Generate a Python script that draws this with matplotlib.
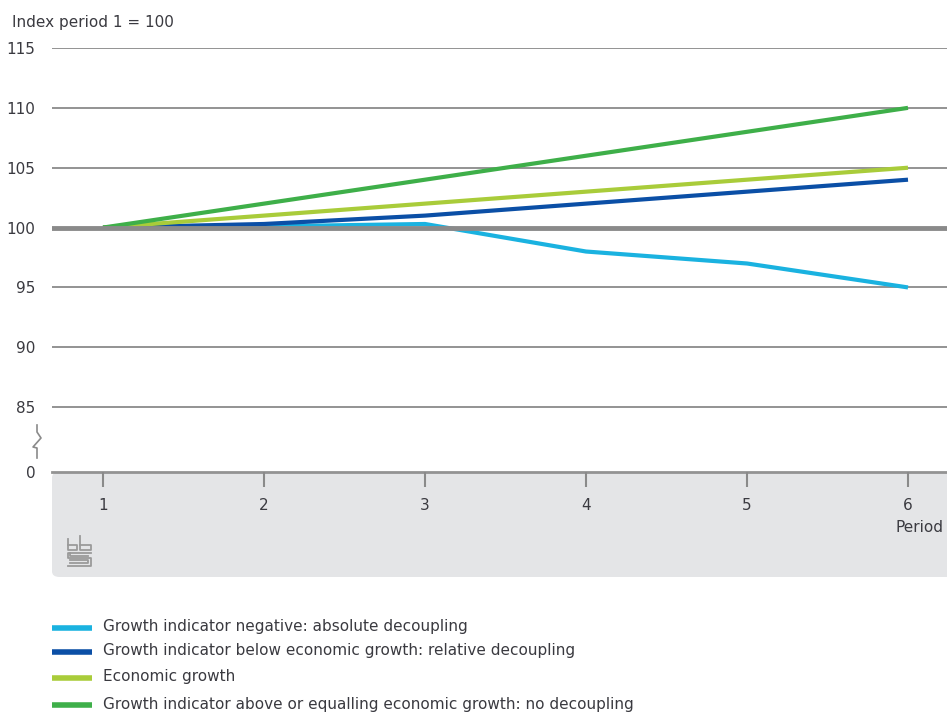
import matplotlib
matplotlib.use("Agg")
import matplotlib.pyplot as plt
from matplotlib.patches import FancyBboxPatch
from matplotlib.lines import Line2D

periods = [1, 2, 3, 4, 5, 6]
absolute = [100, 100.1, 100.3, 98, 97, 95]
relative = [100, 100.3, 101, 102, 103, 104]
economic = [100, 101, 102, 103, 104, 105]
no_decoupling = [100, 102, 104, 106, 108, 110]

labels = [
    "Growth indicator negative: absolute decoupling",
    "Growth indicator below economic growth: relative decoupling",
    "Economic growth",
    "Growth indicator above or equalling economic growth: no decoupling",
]
colors = ["#1ab2e0", "#0b4fa6", "#a9cc3a", "#3eaf49"]
yticks = [85, 90, 95, 100, 105, 110, 115]

plt.rcParams['font.family'] = ['Liberation Sans Narrow', 'DejaVu Sans']
txt = "#3a3a40"

W, H = 947, 713
fig = plt.figure(figsize=(W / 100, H / 100), dpi=100)

def fx(px):
    return px / W

def fy(py):
    return 1 - py / H

# grey panel below axis
panel = FancyBboxPatch((fx(52), fy(577)), fx(947) - fx(52) + 0.02, fy(472) - fy(577),
                       boxstyle="round,pad=0,rounding_size=0.008", transform=fig.transFigure,
                       facecolor="#e4e5e7", edgecolor="none", zorder=-5)
fig.patches.append(panel)

ax = fig.add_axes([fx(52), fy(472), 1 - fx(52), fy(48) - fy(472)])
ax.set_zorder(2)
ax.set_facecolor("none")
ybottom = 85 - 65 / 12
ax.set_ylim(ybottom, 115)
ax.set_xlim(1 - 51 / 161, 6 + 39 / 161)

for v in yticks:
    if v == 100:
        ax.axhline(v, color="#8a8a8a", lw=3.5, zorder=4)
    else:
        ax.axhline(v, color="#939393", lw=1.4, zorder=1)
ax.axhline(ybottom, color="#939393", lw=2, zorder=1, clip_on=False)

series = [absolute, relative, economic, no_decoupling]
for s, c, l in zip(series, colors, labels):
    ax.plot(periods, s, color=c, lw=3, label=l, zorder=3, solid_capstyle="butt")

for sp in ax.spines.values():
    sp.set_visible(False)
ax.set_yticks(yticks + [ybottom])
ax.set_yticklabels([str(v) for v in yticks] + ["0"])
ax.tick_params(axis="y", length=0, pad=12, labelsize=11, labelcolor=txt)
ax.set_xticks(periods)
ax.set_xticklabels([str(p) for p in periods])
ax.tick_params(axis="x", length=11, width=1.5, color="#8a8a8a", pad=8,
               labelsize=11, labelcolor=txt, direction="out")

fig.text(fx(12), fy(22), "Index period 1 = 100", fontsize=11, color=txt, va="center", ha="left")
fig.text(fx(943), fy(528), "Period", fontsize=11, color=txt, va="center", ha="right")

# axis break symbol
bx = [37, 37, 41, 33, 37, 37]
by = [425, 432, 438, 447, 448, 458]
fig.add_artist(Line2D([fx(x) for x in bx], [fy(y) for y in by], color="#8a8a8a", lw=1.2,
                      transform=fig.transFigure))

# simple logo
lg = "#9a9a9a"
def pl(xs, ys, lw=1.3):
    fig.add_artist(Line2D([fx(x) for x in xs], [fy(y) for y in ys], color=lg, lw=lw,
                          transform=fig.transFigure))
pl([68, 68, 77, 77, 68], [539, 550, 550, 545, 545])
pl([80, 80, 91, 91, 80], [536, 550, 550, 545, 545])
pl([91, 68, 68, 91, 91, 68], [553, 553, 558, 558, 566, 566])
pl([70, 70, 88], [553, 556, 556])
pl([70, 88, 88, 70], [560, 560, 563, 563])

# legend
ys = [628, 652, 678, 705]
for y, c, l in zip(ys, colors, labels):
    fig.add_artist(Line2D([fx(52), fx(92)], [fy(y), fy(y)], color=c, lw=4,
                          transform=fig.transFigure, solid_capstyle="butt"))
    fig.text(fx(103), fy(y - 1), l, fontsize=11, color=txt, va="center", ha="left")

fig.savefig("out.png", dpi=100)
